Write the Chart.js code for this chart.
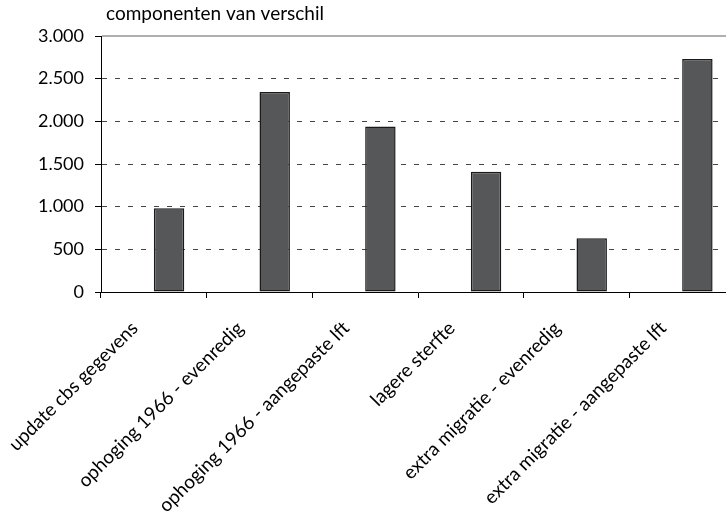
<!DOCTYPE html>
<html>
<head>
<meta charset="utf-8">
<script src="https://cdn.jsdelivr.net/npm/chart.js@4/dist/chart.umd.min.js"></script>
<style>
  html, body { margin: 0; padding: 0; background: #fff; overflow: hidden; }
  #wrap { width: 726px; height: 511px; overflow: hidden; position: relative; }
  #c { position: absolute; left: 0; top: 0; }
</style>
</head>
<body>
<div id="wrap"><canvas id="c" width="745" height="511"></canvas></div>
<script>
var categories = ["update cbs gegevens", "ophoging 1966 - evenredig", "ophoging 1966 - aangepaste lft",
                  "lagere sterfte", "extra migratie - evenredig", "extra migratie - aangepaste lft"];
// excel had an empty first series, the bars sit right of the category centre
var emptySeries = [null, null, null, null, null, null];
var verschil = [980, 2345, 1940, 1410, 630, 2730];
var yTicks = [0, 500, 1000, 1500, 2000, 2500, 3000];
var chartTitle = "componenten van verschil";

var FONT = "Lato, 'Open Sans', sans-serif";

function fmt(v) {
	return v.toString().replace(/\B(?=(\d{3})+(?!\d))/g, ".");
}

// title text and the solid top line
var extras = {
	id: 'extras',
	afterDraw: function(chart) {
		var ctx = chart.ctx;
		var y = chart.scales.y.getPixelForValue(yTicks[yTicks.length - 1]);
		ctx.save();
		ctx.strokeStyle = '#b0b0b0';
		ctx.lineWidth = 2;
		ctx.beginPath();
		ctx.moveTo(chart.chartArea.left + 1, y);
		ctx.lineTo(chart.chartArea.right, y);
		ctx.stroke();
		ctx.font = "19px " + FONT;
		ctx.fillStyle = '#000';
		ctx.textBaseline = 'middle';
		ctx.textAlign = 'left';
		ctx.fillText(chartTitle, 106, 14);
		ctx.restore();
	}
};

var ctx = document.getElementById('c').getContext('2d');
var chart = new Chart(ctx, {
	type: 'bar',
	data: {
		labels: categories,
		datasets: [{
			label: 'leeg',
			data: emptySeries,
			backgroundColor: '#555759'
		}, {
			label: 'verschil',
			data: verschil,
			backgroundColor: '#555759',
			borderColor: '#1a1a1a',
			borderWidth: 1.5,
			borderSkipped: false
		}]
	},
	options: {
		responsive: false,
		animation: false,
		categoryPercentage: 0.576,
		barPercentage: 1,
		layout: { padding: { top: 36, right: 10, left: 0, bottom: 0 } },
		plugins: {
			legend: { display: false },
			tooltip: { enabled: false }
		},
		scales: {
			x: {
				offset: true,
				grid: { offset: true, drawOnChartArea: false, tickLength: 6, color: '#000' },
				border: { color: '#000', width: 1 },
				ticks: {
					minRotation: 45, maxRotation: 45, padding: 19, labelOffset: -19,
					color: '#000',
					font: { family: FONT, size: 19 }
				},
				afterFit: function(s) { s.height = 219; }
			},
			y: {
				min: 0, max: 3000,
				afterBuildTicks: function(s) {
					s.ticks = yTicks.map(function(v) { return { value: v }; });
				},
				grid: {
					color: function(c) {
						var v = c.tick ? c.tick.value : 0;
						return (v === 0 || v === 3000) ? 'rgba(0,0,0,0)' : '#444';
					},
					tickColor: '#000',
					tickLength: 6,
					tickBorderDash: [],
					lineWidth: 1
				},
				border: { color: '#000', width: 1, dash: [5, 8] },
				ticks: {
					padding: 11,
					color: '#000',
					font: { family: FONT, size: 18 },
					callback: function(v) { return fmt(v); }
				},
				afterFit: function(s) { s.width = 101; }
			}
		}
	},
	plugins: [extras]
});
</script>
</body>
</html>
